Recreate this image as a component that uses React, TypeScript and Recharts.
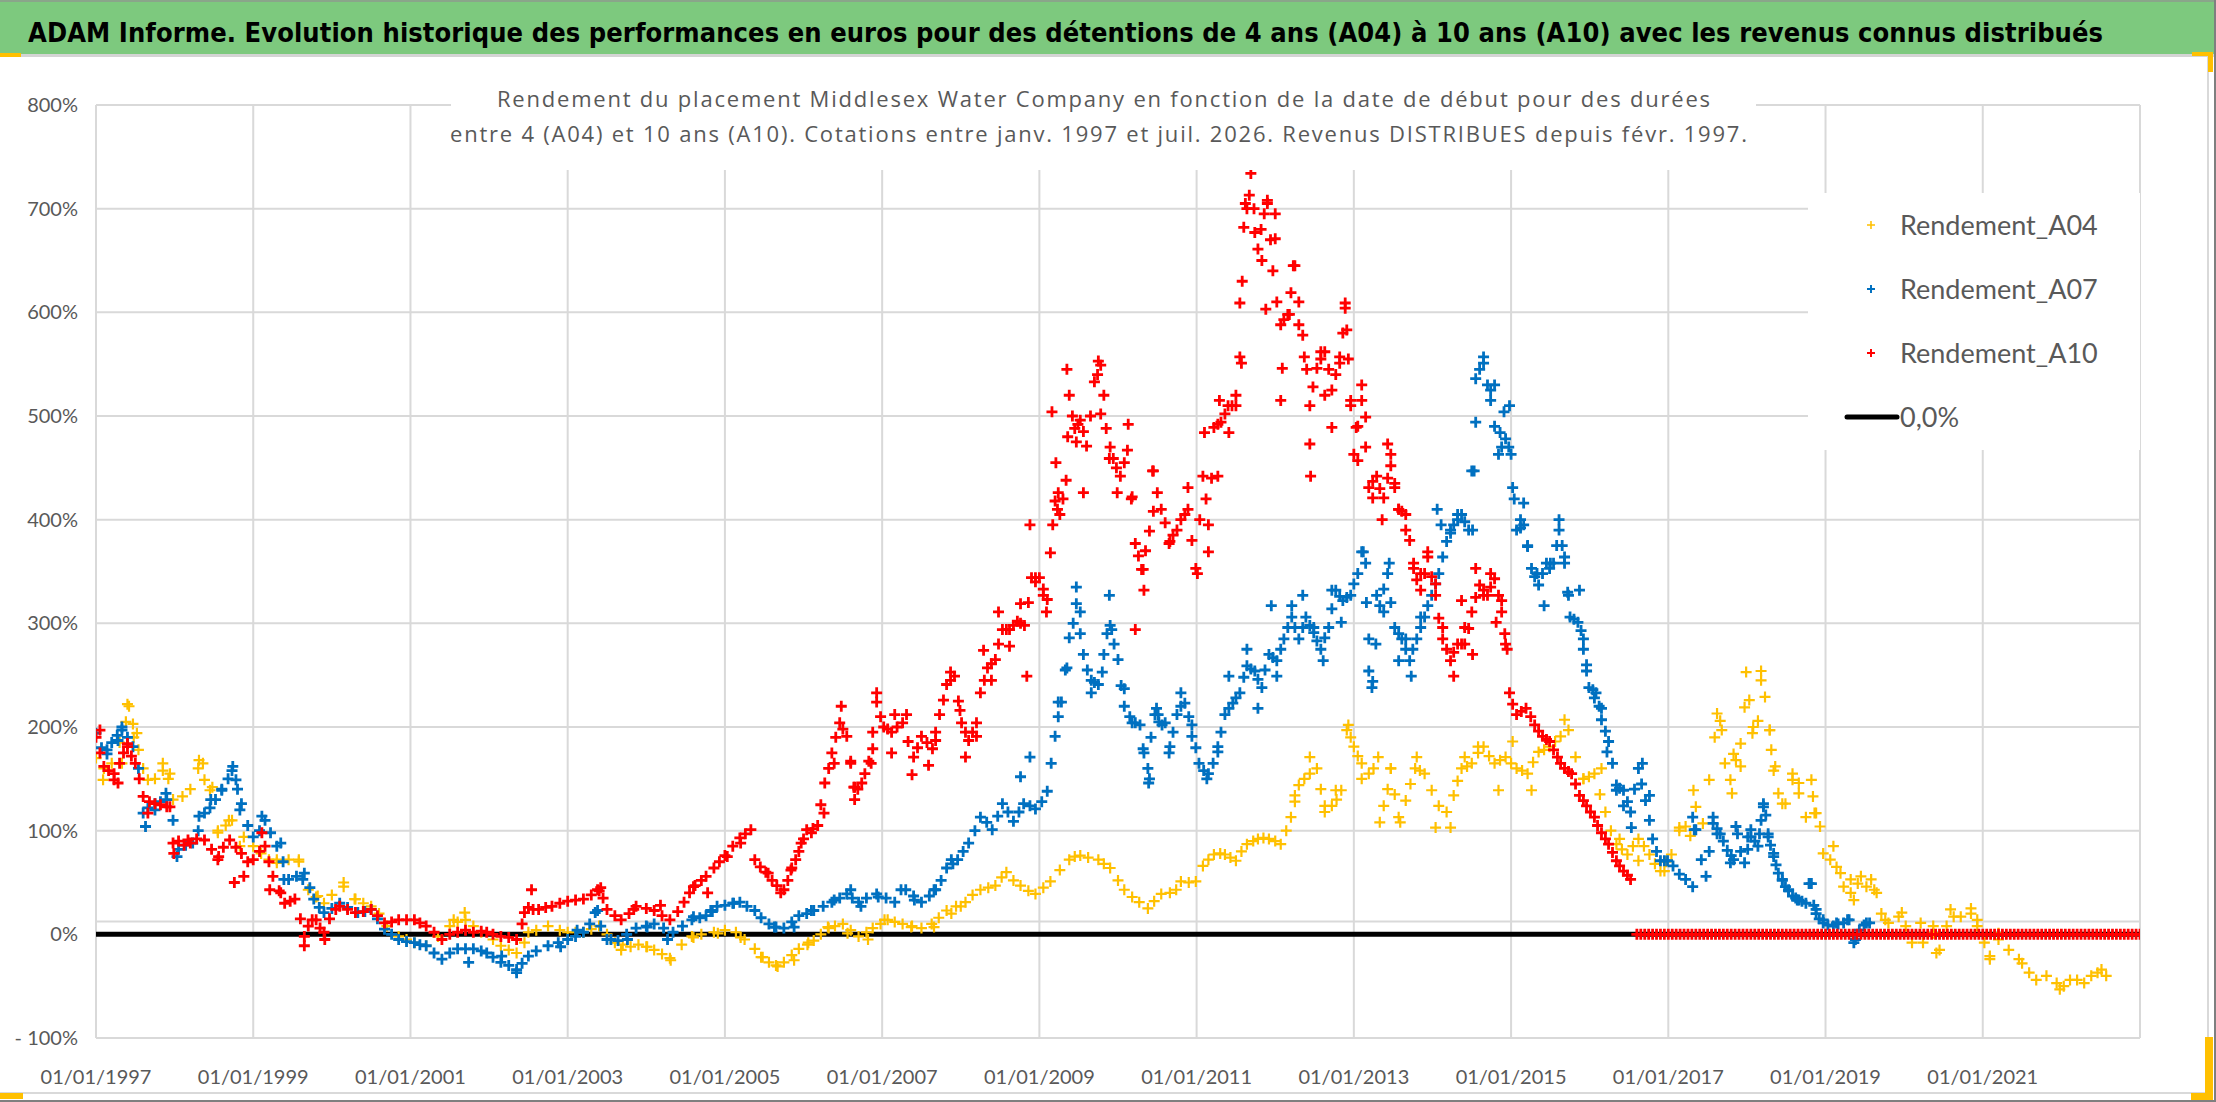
import { CartesianGrid, Legend, Scatter, ScatterChart, XAxis, YAxis } from 'recharts'

const TITLE =
  'ADAM Informe. Evolution historique des performances en euros pour des détentions de 4 ans (A04) à 10 ans (A10) avec les revenus connus distribués'
const SUBTITLE_LINES = [
  'Rendement du placement Middlesex Water Company en fonction de la date de début pour des durées',
  'entre 4 (A04) et 10 ans (A10). Cotations entre janv. 1997 et juil. 2026. Revenus DISTRIBUES depuis févr. 1997.',
]

const YEAR_TICKS = [1997, 1999, 2001, 2003, 2005, 2007, 2009, 2011, 2013, 2015, 2017, 2019, 2021]
const PERCENT_TICKS = [-100, 0, 12.5, 100, 200, 300, 400, 500, 600, 700, 800]

// [date as decimal year, return in %] — centre of each band
const A04: [number, number][] = [
  [1997.0, 170], [1997.1, 160], [1997.2, 165], [1997.3, 185], [1997.38, 205], [1997.42, 220], [1997.48, 190], [1997.54, 178],
  [1997.6, 160], [1997.66, 149], [1997.75, 150], [1997.85, 158], [1997.92, 150], [1997.98, 130], [1998.1, 133], [1998.2, 140],
  [1998.3, 160], [1998.36, 165], [1998.45, 139], [1998.55, 100], [1998.65, 105], [1998.73, 110], [1998.88, 94], [1999.0, 85],
  [1999.1, 78], [1999.2, 72], [1999.3, 69], [1999.45, 72], [1999.58, 70], [1999.7, 43], [1999.8, 36], [1999.9, 30],
  [2000.0, 38], [2000.15, 46], [2000.3, 34], [2000.4, 30], [2000.5, 27], [2000.6, 20], [2000.7, 8], [2000.85, -2],
  [2000.95, -5], [2001.05, -8], [2001.2, -11], [2001.35, -2], [2001.5, 8], [2001.6, 12], [2001.7, 14], [2001.8, 8],
  [2001.9, 2], [2002.05, -5], [2002.15, -11], [2002.25, -15], [2002.35, -18], [2002.45, -8], [2002.5, 2], [2002.6, 4],
  [2002.75, 8], [2002.9, 4], [2003.0, 2], [2003.1, 2], [2003.2, 2], [2003.3, 5], [2003.4, 8], [2003.5, 0],
  [2003.6, -8], [2003.68, -15], [2003.7, -10], [2003.8, -12], [2003.9, -10], [2004.0, -12], [2004.01, -12], [2004.1, -15],
  [2004.2, -19], [2004.3, -23], [2004.31, -25], [2004.45, -10], [2004.58, -2], [2004.6, -3], [2004.7, 0], [2004.86, 2],
  [2004.91, 1], [2005.0, 4], [2005.14, 2], [2005.2, -3], [2005.25, -5], [2005.38, -14], [2005.46, -22], [2005.48, -22],
  [2005.56, -27], [2005.65, -30], [2005.67, -31], [2005.75, -27], [2005.85, -20], [2005.88, -25], [2005.94, -14], [2006.05, -10],
  [2006.06, -8], [2006.13, -6], [2006.22, 0], [2006.31, 7], [2006.32, 6], [2006.4, 8], [2006.5, 10], [2006.56, 1],
  [2006.6, 4], [2006.7, -2], [2006.8, 2], [2006.82, -5], [2006.88, 6], [2006.98, 10], [2007.03, 14], [2007.07, 14],
  [2007.16, 12], [2007.26, 10], [2007.37, 7], [2007.38, 8], [2007.5, 6], [2007.63, 10], [2007.66, 7], [2007.72, 16],
  [2007.82, 23], [2007.88, 20], [2007.94, 27], [2008.0, 27], [2008.06, 31], [2008.15, 38], [2008.25, 43], [2008.35, 45],
  [2008.44, 47], [2008.52, 55], [2008.58, 60], [2008.67, 52], [2008.76, 47], [2008.86, 42], [2008.95, 39], [2009.05, 45],
  [2009.14, 51], [2009.26, 62], [2009.38, 72], [2009.45, 75], [2009.52, 76], [2009.62, 74], [2009.75, 72], [2009.82, 68],
  [2009.9, 64], [2010.0, 52], [2010.08, 43], [2010.18, 36], [2010.27, 31], [2010.38, 25], [2010.46, 32], [2010.55, 39],
  [2010.66, 40], [2010.74, 43], [2010.8, 51], [2010.9, 50], [2010.99, 51], [2011.08, 66], [2011.15, 72], [2011.22, 77],
  [2011.3, 78], [2011.36, 77], [2011.43, 74], [2011.5, 71], [2011.57, 80], [2011.64, 87], [2011.72, 90], [2011.78, 92],
  [2011.85, 93], [2011.92, 92], [2012.0, 90], [2012.07, 87], [2012.14, 100], [2012.2, 113], [2012.25, 128], [2012.3, 144],
  [2012.37, 150], [2012.44, 155], [2012.53, 160], [2012.58, 140], [2012.63, 124], [2012.72, 124], [2012.78, 130], [2012.84, 139],
  [2012.91, 197], [2012.96, 190], [2013.0, 181], [2013.05, 172], [2013.1, 165], [2013.19, 155], [2013.25, 160], [2013.31, 171],
  [2013.38, 124], [2013.43, 140], [2013.47, 160], [2013.52, 135], [2013.57, 113], [2013.66, 129], [2013.72, 145], [2013.78, 160],
  [2013.84, 158], [2013.9, 155], [2013.99, 139], [2014.08, 124], [2014.18, 118], [2014.27, 134], [2014.32, 148], [2014.37, 160],
  [2014.44, 162], [2014.5, 165], [2014.58, 175], [2014.65, 181], [2014.72, 172], [2014.79, 165], [2014.86, 168], [2014.93, 171],
  [2015.0, 165], [2015.07, 160], [2015.14, 158], [2015.21, 155], [2015.28, 166], [2015.35, 176], [2015.42, 178], [2015.49, 181],
  [2015.56, 186], [2015.63, 191], [2015.73, 197], [2015.82, 171], [2015.92, 150], [2015.99, 152], [2016.06, 155], [2016.13, 135],
  [2016.2, 118], [2016.27, 100], [2016.34, 87], [2016.41, 82], [2016.48, 77], [2016.55, 85], [2016.62, 92], [2016.69, 85],
  [2016.76, 77], [2016.83, 68], [2016.9, 61], [2016.97, 70], [2017.04, 77], [2017.14, 100], [2017.22, 104], [2017.28, 95],
  [2017.35, 123], [2017.44, 107], [2017.52, 149], [2017.59, 190], [2017.66, 206], [2017.72, 165], [2017.79, 149], [2017.86, 168],
  [2017.92, 162], [2017.97, 219], [2018.03, 226], [2018.08, 200], [2018.14, 206], [2018.18, 245], [2018.23, 229], [2018.29, 197],
  [2018.34, 158], [2018.4, 136], [2018.49, 126], [2018.58, 149], [2018.66, 136], [2018.75, 113], [2018.84, 133], [2018.88, 117],
  [2018.97, 78], [2019.06, 72], [2019.14, 65], [2019.23, 46], [2019.32, 40], [2019.41, 49], [2019.52, 46], [2019.62, 43],
  [2019.71, 20], [2019.8, 11], [2019.93, 17], [2020.02, 8], [2020.1, -8], [2020.24, -8], [2020.37, 1], [2020.45, -15],
  [2020.54, 8], [2020.63, 17], [2020.72, 17], [2020.85, 20], [2020.93, 8], [2021.02, -8], [2021.09, -21], [2021.2, -5],
  [2021.33, -15], [2021.46, -24], [2021.59, -37], [2021.68, -44], [2021.81, -40], [2021.94, -47], [2022.03, -50], [2022.11, -44],
  [2022.2, -44], [2022.29, -47], [2022.38, -40], [2022.46, -37], [2022.57, -40],
]

// dispersed crosses read around the band
const A04_SPREAD: [number, number][] = [
  [1997.09, 149], [1997.33, 165], [1997.4, 222], [1997.47, 203], [1997.52, 194], [1997.85, 165], [1997.94, 155], [1998.31, 168],
  [1998.38, 149], [1998.48, 142], [1998.55, 98], [1998.69, 110], [1998.83, 85], [1999.3, 72], [1999.58, 72], [1999.82, 37],
  [2000.15, 50], [2000.29, 34], [2001.55, 14], [2001.69, 21], [2012.25, 134], [2012.44, 171], [2012.63, 118], [2012.77, 139],
  [2012.93, 202], [2013.1, 150], [2013.33, 108], [2013.47, 160], [2013.59, 108], [2013.8, 171], [2014.04, 103], [2014.23, 103],
  [2014.41, 171], [2014.58, 181], [2014.84, 139], [2015.02, 186], [2015.26, 139], [2015.68, 207], [2015.92, 150], [2016.15, 160],
  [2016.38, 92], [2016.62, 71], [2016.95, 61], [2017.14, 103], [2017.32, 139], [2017.62, 213], [2017.68, 197], [2017.81, 136],
  [2017.83, 174], [2017.92, 184], [2017.99, 253], [2018.07, 194], [2018.18, 254], [2018.29, 197], [2018.31, 178], [2018.36, 162],
  [2018.45, 126], [2018.58, 155], [2018.66, 146], [2018.82, 149], [2018.86, 117], [2018.93, 104], [2019.1, 85], [2019.19, 59],
  [2019.32, 53], [2019.36, 33], [2019.45, 56], [2019.58, 53], [2019.65, 40], [2019.76, 14], [2019.97, 21], [2020.21, 11],
  [2020.37, 8], [2020.41, -18], [2020.59, 24], [2020.85, 25], [2020.93, 14], [2021.09, -24], [2021.2, 1], [2021.5, -28],
  [2021.98, -53], [2022.51, -34],
]

const A07: [number, number][] = [
  [1997.0, 194], [1997.07, 180], [1997.14, 174], [1997.2, 185], [1997.27, 192], [1997.33, 197], [1997.4, 190], [1997.47, 181],
  [1997.54, 160], [1997.6, 117], [1997.66, 122], [1997.75, 126], [1997.82, 128], [1997.9, 130], [1997.98, 110], [1998.05, 82],
  [1998.14, 86], [1998.23, 88], [1998.3, 100], [1998.38, 117], [1998.45, 122], [1998.52, 130], [1998.6, 140], [1998.68, 150],
  [1998.73, 158], [1998.8, 140], [1998.85, 126], [1998.93, 105], [1999.0, 94], [1999.08, 100], [1999.15, 110], [1999.22, 98],
  [1999.3, 85], [1999.38, 70], [1999.45, 53], [1999.55, 56], [1999.65, 59], [1999.72, 45], [1999.77, 34], [1999.84, 26],
  [1999.9, 21], [2000.0, 25], [2000.1, 30], [2000.2, 26], [2000.33, 21], [2000.42, 22], [2000.5, 24], [2000.58, 15],
  [2000.67, 5], [2000.76, 0], [2000.85, -5], [2000.95, -7], [2001.05, -8], [2001.12, -10], [2001.2, -11], [2001.3, -18],
  [2001.4, -24], [2001.5, -18], [2001.6, -14], [2001.7, -14], [2001.8, -14], [2001.9, -16], [2001.97, -18], [2002.05, -22],
  [2002.15, -27], [2002.25, -30], [2002.35, -34], [2002.42, -28], [2002.5, -21], [2002.6, -16], [2002.75, -11], [2002.88, -8],
  [2002.91, -12], [2003.0, -5], [2003.1, -2], [2003.12, 4], [2003.2, 2], [2003.28, 10], [2003.35, 21], [2003.38, 23],
  [2003.42, 8], [2003.5, -5], [2003.55, -5], [2003.64, -6], [2003.75, 0], [2003.76, -5], [2003.87, 6], [2004.0, 8],
  [2004.01, 7], [2004.1, 10], [2004.22, 6], [2004.27, -5], [2004.34, 2], [2004.46, 8], [2004.58, 14], [2004.6, 17],
  [2004.68, 16], [2004.76, 18], [2004.82, 23], [2004.84, 22], [2004.9, 27], [2005.0, 28], [2005.1, 30], [2005.11, 30],
  [2005.19, 31], [2005.28, 27], [2005.38, 23], [2005.46, 16], [2005.56, 10], [2005.63, 7], [2005.65, 7], [2005.75, 6],
  [2005.85, 12], [2005.88, 7], [2005.94, 18], [2006.04, 20], [2006.1, 23], [2006.13, 23], [2006.25, 27], [2006.36, 31],
  [2006.39, 33], [2006.46, 35], [2006.55, 39], [2006.6, 43], [2006.62, 35], [2006.7, 31], [2006.73, 27], [2006.8, 35],
  [2006.93, 39], [2006.95, 36], [2007.05, 35], [2007.16, 31], [2007.24, 43], [2007.3, 43], [2007.4, 37], [2007.41, 33],
  [2007.5, 31], [2007.6, 37], [2007.66, 43], [2007.68, 43], [2007.75, 52], [2007.82, 64], [2007.88, 72], [2007.9, 68],
  [2007.96, 72], [2008.03, 80], [2008.1, 88], [2008.18, 100], [2008.25, 113], [2008.33, 108], [2008.4, 101], [2008.47, 114],
  [2008.53, 126], [2008.6, 118], [2008.67, 109], [2008.74, 118], [2008.8, 126], [2008.88, 124], [2008.95, 121], [2009.03, 128],
  [2009.1, 138], [2009.15, 165], [2009.2, 191], [2009.24, 210], [2009.28, 224], [2009.33, 255], [2009.38, 286], [2009.43, 300],
  [2009.47, 319], [2009.52, 290], [2009.56, 270], [2009.61, 255], [2009.66, 245], [2009.7, 243], [2009.75, 241], [2009.82, 270],
  [2009.86, 290], [2009.9, 298], [2009.95, 280], [2010.0, 265], [2010.04, 240], [2010.08, 220], [2010.15, 210], [2010.22, 204],
  [2010.28, 202], [2010.33, 175], [2010.38, 160], [2010.42, 190], [2010.47, 212], [2010.52, 205], [2010.56, 202], [2010.6, 204],
  [2010.66, 181], [2010.7, 195], [2010.75, 212], [2010.8, 220], [2010.85, 223], [2010.9, 210], [2010.94, 202], [2010.99, 180],
  [2011.03, 165], [2011.09, 158], [2011.15, 155], [2011.21, 165], [2011.27, 176], [2011.31, 195], [2011.36, 212], [2011.41, 218],
  [2011.46, 223], [2011.5, 228], [2011.55, 233], [2011.6, 248], [2011.64, 259], [2011.69, 256], [2011.74, 254], [2011.78, 246],
  [2011.83, 238], [2011.87, 255], [2011.92, 270], [2011.97, 267], [2012.02, 264], [2012.07, 275], [2012.11, 285], [2012.16, 296],
  [2012.21, 306], [2012.25, 296], [2012.3, 285], [2012.35, 296], [2012.39, 306], [2012.44, 298], [2012.49, 291], [2012.53, 283],
  [2012.58, 275], [2012.63, 286], [2012.68, 296], [2012.72, 314], [2012.77, 332], [2012.82, 326], [2012.86, 322], [2012.91, 325],
  [2012.96, 327], [2013.0, 338], [2013.05, 348], [2013.12, 369], [2013.16, 320], [2013.19, 285], [2013.24, 244], [2013.28, 280],
  [2013.33, 317], [2013.38, 333], [2013.43, 348], [2013.47, 320], [2013.52, 296], [2013.57, 290], [2013.61, 285], [2013.66, 275],
  [2013.71, 264], [2013.75, 275], [2013.8, 285], [2013.85, 296], [2013.9, 306], [2013.94, 317], [2013.99, 327], [2014.04, 338],
  [2014.08, 348], [2014.13, 364], [2014.18, 379], [2014.23, 387], [2014.27, 395], [2014.32, 400], [2014.37, 405], [2014.41, 398],
  [2014.46, 390], [2014.5, 447], [2014.55, 536], [2014.6, 545], [2014.65, 551], [2014.7, 530], [2014.74, 515], [2014.79, 490],
  [2014.84, 463], [2014.88, 470], [2014.93, 478], [2014.97, 470], [2015.0, 463], [2015.04, 420], [2015.07, 390], [2015.12, 392],
  [2015.16, 395], [2015.21, 375], [2015.26, 353], [2015.3, 345], [2015.35, 337], [2015.4, 348], [2015.45, 358], [2015.5, 358],
  [2015.54, 358], [2015.58, 375], [2015.61, 390], [2015.65, 375], [2015.68, 358], [2015.72, 330], [2015.75, 306], [2015.8, 304],
  [2015.85, 301], [2015.89, 293], [2015.92, 285], [2015.96, 260], [2015.99, 238], [2016.04, 236], [2016.08, 233], [2016.12, 220],
  [2016.15, 207], [2016.2, 196], [2016.24, 186], [2016.29, 165], [2016.34, 144], [2016.38, 141], [2016.43, 139], [2016.48, 128],
  [2016.52, 118], [2016.57, 140], [2016.62, 160], [2016.66, 145], [2016.71, 129], [2016.76, 110], [2016.8, 92], [2016.85, 80],
  [2016.9, 71], [2016.95, 71], [2016.99, 71], [2017.06, 66], [2017.14, 58], [2017.22, 53], [2017.31, 46], [2017.35, 101],
  [2017.42, 72], [2017.48, 56], [2017.52, 80], [2017.57, 107], [2017.62, 102], [2017.66, 97], [2017.7, 90], [2017.75, 81],
  [2017.8, 76], [2017.83, 72], [2017.88, 97], [2017.92, 80], [2017.97, 69], [2018.01, 82], [2018.05, 94], [2018.1, 90],
  [2018.14, 85], [2018.18, 110], [2018.21, 123], [2018.24, 115], [2018.27, 97], [2018.3, 86], [2018.34, 75], [2018.37, 67],
  [2018.4, 59], [2018.45, 52], [2018.49, 46], [2018.53, 42], [2018.58, 37], [2018.62, 35], [2018.66, 33], [2018.7, 32],
  [2018.75, 30], [2018.82, 49], [2018.85, 28], [2018.88, 20], [2018.92, 15], [2018.97, 11], [2019.03, 9], [2019.1, 8],
  [2019.16, 10], [2019.23, 11], [2019.3, 14], [2019.38, -5], [2019.43, 4], [2019.49, 9], [2019.56, 11],
]

const A07_SPREAD: [number, number][] = [
  [1997.14, 178], [1997.28, 187], [1997.33, 200], [1997.63, 104], [1997.75, 120], [1997.89, 136], [1998.03, 75], [1998.31, 114],
  [1998.46, 130], [1998.6, 139], [1998.74, 162], [1998.78, 149], [1998.83, 120], [1999.11, 114], [1999.35, 88], [1999.39, 53],
  [1999.63, 53], [2001.74, -27], [2002.16, -21], [2002.35, -37], [2008.76, 152], [2008.88, 171], [2009.24, 224], [2009.35, 257],
  [2009.47, 335], [2009.52, 311], [2009.66, 233], [2009.8, 253], [2009.89, 327], [2009.92, 294], [2010.08, 237], [2010.18, 204],
  [2010.32, 179], [2010.39, 146], [2010.4, 150], [2010.49, 218], [2010.51, 212], [2010.65, 175], [2010.8, 233], [2010.94, 191],
  [2011.13, 150], [2011.27, 181], [2011.41, 249], [2011.64, 275], [2011.78, 218], [2011.95, 317], [2012.02, 249], [2012.21, 317],
  [2012.35, 327], [2012.49, 296], [2012.61, 264], [2012.72, 332], [2012.84, 301], [2013.1, 369], [2013.15, 358], [2013.19, 254],
  [2013.23, 238], [2013.29, 327], [2013.38, 311], [2013.45, 358], [2013.57, 264], [2013.66, 285], [2013.73, 249], [2013.85, 306],
  [2014.06, 410], [2014.11, 395], [2014.23, 390], [2014.32, 405], [2014.51, 390], [2014.53, 447], [2014.55, 494], [2014.65, 557],
  [2014.74, 525], [2014.79, 530], [2014.86, 484], [2014.91, 504], [2014.98, 510], [2015.02, 431], [2015.12, 400], [2015.16, 416],
  [2015.21, 374], [2015.33, 348], [2015.42, 317], [2015.49, 353], [2015.61, 400], [2015.68, 364], [2015.73, 327], [2015.87, 332],
  [2015.92, 275], [2015.96, 254], [2016.06, 228], [2016.15, 218], [2016.22, 176], [2016.34, 139], [2016.43, 124], [2016.53, 103],
  [2016.67, 165], [2016.76, 134], [2017.31, 113], [2017.33, 101], [2017.57, 113], [2017.62, 97], [2017.79, 69], [2017.86, 104],
  [2018.01, 94], [2018.05, 101], [2018.16, 97], [2018.21, 126], [2018.27, 94], [2018.34, 78], [2018.45, 53], [2018.53, 43],
  [2018.64, 33], [2018.79, 49], [2018.88, 24], [2018.97, 14], [2019.14, 11], [2019.28, 14], [2019.36, -8], [2019.52, 11],
]

const A10: [number, number][] = [
  [1997.0, 190], [1997.05, 175], [1997.1, 162], [1997.16, 158], [1997.23, 155], [1997.3, 165], [1997.35, 175], [1997.4, 181],
  [1997.45, 172], [1997.5, 165], [1997.55, 150], [1997.6, 133], [1997.68, 128], [1997.75, 126], [1997.82, 125], [1997.9, 123],
  [1997.98, 88], [1998.05, 90], [1998.12, 86], [1998.2, 88], [1998.28, 92], [1998.38, 91], [1998.47, 82], [1998.56, 75],
  [1998.62, 84], [1998.7, 91], [1998.78, 84], [1998.85, 78], [1998.93, 70], [1999.0, 72], [1999.08, 80], [1999.15, 85],
  [1999.2, 70], [1999.25, 56], [1999.33, 42], [1999.4, 30], [1999.47, 32], [1999.53, 34], [1999.6, 15], [1999.65, -2],
  [1999.7, 8], [1999.75, 14], [1999.8, 14], [1999.85, 6], [1999.9, 2], [1999.97, 15], [2000.05, 24], [2000.1, 27],
  [2000.2, 24], [2000.3, 21], [2000.4, 22], [2000.5, 24], [2000.58, 18], [2000.67, 11], [2000.76, 12], [2000.85, 14],
  [2000.95, 14], [2001.05, 14], [2001.12, 11], [2001.2, 8], [2001.3, 2], [2001.4, -5], [2001.5, 0], [2001.6, 2],
  [2001.7, 4], [2001.8, 2], [2001.9, 3], [2001.97, 2], [2002.05, 0], [2002.15, -2], [2002.25, -3], [2002.35, -5],
  [2002.42, 10], [2002.45, 21], [2002.5, 26], [2002.56, 24], [2002.63, 24], [2002.72, 26], [2002.8, 27], [2002.9, 30],
  [2003.0, 32], [2003.1, 33], [2003.2, 34], [2003.3, 38], [2003.4, 42], [2003.42, 45], [2003.45, 35], [2003.5, 24],
  [2003.6, 18], [2003.68, 14], [2003.78, 20], [2003.84, 24], [2003.87, 27], [2004.0, 25], [2004.1, 23], [2004.18, 28],
  [2004.2, 18], [2004.3, 14], [2004.4, 22], [2004.48, 31], [2004.55, 40], [2004.6, 46], [2004.62, 47], [2004.7, 52],
  [2004.76, 56], [2004.78, 40], [2004.86, 64], [2004.93, 70], [2005.0, 76], [2005.03, 75], [2005.1, 85], [2005.19, 93],
  [2005.2, 88], [2005.26, 97], [2005.33, 101], [2005.38, 72], [2005.45, 65], [2005.52, 60], [2005.55, 59], [2005.6, 52],
  [2005.66, 47], [2005.71, 40], [2005.75, 43], [2005.8, 52], [2005.84, 62], [2005.85, 64], [2005.9, 72], [2005.94, 80],
  [2005.97, 88], [2006.0, 92], [2006.04, 101], [2006.1, 98], [2006.12, 102], [2006.18, 105], [2006.22, 125], [2006.26, 117],
  [2006.27, 146], [2006.32, 160], [2006.36, 175], [2006.39, 165], [2006.41, 190], [2006.46, 204], [2006.5, 198], [2006.55, 191],
  [2006.6, 165], [2006.64, 142], [2006.65, 142], [2006.69, 140], [2006.74, 146], [2006.78, 155], [2006.83, 167], [2006.86, 165],
  [2006.88, 195], [2006.93, 224], [2006.98, 210], [2007.02, 200], [2007.07, 198], [2007.12, 195], [2007.19, 200], [2007.26, 204],
  [2007.33, 186], [2007.4, 171], [2007.45, 180], [2007.5, 191], [2007.57, 185], [2007.64, 179], [2007.68, 195], [2007.73, 212],
  [2007.78, 226], [2007.82, 241], [2007.87, 245], [2007.92, 249], [2007.97, 225], [2008.01, 204], [2008.06, 195], [2008.1, 187],
  [2008.15, 195], [2008.2, 204], [2008.25, 233], [2008.3, 245], [2008.34, 257], [2008.39, 261], [2008.44, 265], [2008.48, 280],
  [2008.53, 294], [2008.58, 294], [2008.62, 294], [2008.67, 298], [2008.72, 302], [2008.76, 300], [2008.81, 298], [2008.86, 320],
  [2008.9, 344], [2008.95, 344], [2009.0, 344], [2009.05, 333], [2009.1, 323], [2009.14, 368], [2009.17, 395], [2009.2, 418],
  [2009.23, 410], [2009.26, 405], [2009.3, 420], [2009.34, 438], [2009.36, 480], [2009.38, 520], [2009.42, 500], [2009.45, 488],
  [2009.49, 492], [2009.52, 496], [2009.56, 485], [2009.6, 471], [2009.65, 500], [2009.7, 533], [2009.74, 540], [2009.78, 549],
  [2009.82, 520], [2009.85, 488], [2009.9, 470], [2009.94, 459], [2009.98, 450], [2010.03, 442], [2010.08, 455], [2010.12, 467],
  [2010.17, 420], [2010.22, 377], [2010.26, 365], [2010.3, 352], [2010.35, 370], [2010.4, 389], [2010.45, 408], [2010.5, 426],
  [2010.55, 410], [2010.6, 397], [2010.66, 379], [2010.7, 385], [2010.75, 390], [2010.8, 400], [2010.85, 405], [2010.89, 410],
  [2010.94, 380], [2010.99, 353], [2011.04, 400], [2011.08, 442], [2011.12, 420], [2011.15, 395], [2011.19, 440], [2011.22, 489],
  [2011.27, 492], [2011.31, 494], [2011.36, 502], [2011.4, 510], [2011.45, 510], [2011.5, 510], [2011.55, 557], [2011.58, 630],
  [2011.6, 682], [2011.64, 700], [2011.67, 713], [2011.69, 734], [2011.73, 700], [2011.78, 661], [2011.82, 680], [2011.86, 695],
  [2011.9, 705], [2011.94, 670], [2011.97, 640], [2012.02, 610], [2012.07, 588], [2012.11, 593], [2012.16, 598], [2012.2, 619],
  [2012.25, 645], [2012.3, 610], [2012.35, 578], [2012.4, 545], [2012.44, 510], [2012.48, 528], [2012.53, 546], [2012.58, 555],
  [2012.63, 562], [2012.68, 545], [2012.72, 525], [2012.77, 540], [2012.82, 557], [2012.86, 580], [2012.89, 604], [2012.93, 555],
  [2012.96, 510], [2013.0, 463], [2013.05, 490], [2013.1, 515], [2013.15, 470], [2013.19, 431], [2013.24, 437], [2013.29, 442],
  [2013.33, 430], [2013.38, 421], [2013.43, 440], [2013.47, 463], [2013.52, 435], [2013.57, 410], [2013.61, 408], [2013.66, 405],
  [2013.71, 380], [2013.76, 353], [2013.8, 342], [2013.85, 332], [2013.9, 348], [2013.94, 364], [2013.99, 345], [2014.04, 327],
  [2014.08, 305], [2014.13, 285], [2014.18, 275], [2014.23, 264], [2014.27, 272], [2014.32, 280], [2014.37, 280], [2014.41, 280],
  [2014.46, 295], [2014.5, 311], [2014.55, 325], [2014.6, 337], [2014.65, 332], [2014.7, 327], [2014.74, 335], [2014.79, 343],
  [2014.84, 327], [2014.88, 311], [2014.92, 290], [2014.95, 275], [2014.98, 233], [2015.02, 222], [2015.07, 212], [2015.13, 215],
  [2015.19, 218], [2015.25, 210], [2015.3, 202], [2015.35, 196], [2015.4, 191], [2015.45, 188], [2015.49, 186], [2015.54, 178],
  [2015.59, 171], [2015.63, 165], [2015.68, 160], [2015.73, 157], [2015.77, 155], [2015.82, 145], [2015.87, 134], [2015.92, 129],
  [2015.96, 124], [2016.01, 118], [2016.06, 113], [2016.1, 105], [2016.15, 98], [2016.2, 92], [2016.24, 87], [2016.29, 79],
  [2016.34, 71], [2016.38, 66], [2016.43, 61], [2016.48, 57], [2016.52, 53],
]

const A10_SPREAD: [number, number][] = [
  [1997.05, 197], [1997.23, 149], [1997.28, 146], [1997.4, 184], [1997.66, 117], [1997.94, 123], [1997.99, 78], [1998.17, 91],
  [1998.55, 72], [1998.76, 50], [1998.88, 56], [1999.11, 98], [1999.21, 43], [1999.35, 40], [1999.65, -11], [1999.91, -5],
  [2002.54, 43], [2003.38, 43], [2006.48, 220], [2006.6, 167], [2006.65, 130], [2006.88, 179], [2006.93, 233], [2007.12, 175],
  [2007.16, 212], [2007.31, 212], [2007.38, 154], [2007.59, 163], [2007.68, 187], [2007.87, 253], [2007.99, 216], [2008.06, 171],
  [2008.2, 191], [2008.29, 274], [2008.39, 245], [2008.48, 311], [2008.62, 278], [2008.76, 319], [2008.84, 249], [2008.88, 395],
  [2008.95, 340], [2009.05, 327], [2009.09, 311], [2009.16, 504], [2009.21, 455], [2009.24, 426], [2009.35, 545], [2009.47, 475],
  [2009.56, 426], [2009.75, 553], [2009.78, 502], [2009.89, 459], [2009.99, 426], [2010.13, 492], [2010.18, 422], [2010.22, 294],
  [2010.32, 352], [2010.33, 332], [2010.44, 447], [2010.45, 447], [2010.65, 377], [2010.89, 431], [2011.01, 348], [2011.1, 484],
  [2011.15, 369], [2011.27, 442], [2011.29, 515], [2011.41, 484], [2011.5, 520], [2011.55, 609], [2011.57, 551], [2011.62, 705],
  [2011.74, 677], [2011.83, 650], [2011.88, 603], [2011.9, 708], [2012.0, 695], [2012.0, 671], [2012.07, 515], [2012.09, 546],
  [2012.18, 598], [2012.23, 645], [2012.3, 588], [2012.37, 557], [2012.44, 473], [2012.45, 442], [2012.58, 562], [2012.63, 520],
  [2012.72, 489], [2012.82, 551], [2012.89, 609], [2012.91, 583], [2012.96, 515], [2013.03, 489], [2013.05, 457], [2013.1, 530],
  [2013.15, 499], [2013.24, 421], [2013.36, 400], [2013.43, 473], [2013.47, 452], [2013.52, 431], [2013.57, 410], [2013.66, 390],
  [2013.76, 358], [2013.85, 348], [2013.94, 369], [2014.04, 338], [2014.13, 296], [2014.27, 249], [2014.37, 322], [2014.41, 296],
  [2014.51, 270], [2014.55, 353], [2014.65, 327], [2014.74, 348], [2014.81, 301], [2014.88, 322], [2014.93, 280],
]

// after mid-2016 the 10-year holding is not complete yet: the sheet plots 0
const A10_ZERO_DATES = [
  2016.6, 2016.65, 2016.7, 2016.75, 2016.8, 2016.85, 2016.9, 2016.95, 2017.0, 2017.05, 2017.1, 2017.15, 2017.2, 2017.25,
  2017.3, 2017.35, 2017.4, 2017.45, 2017.5, 2017.55, 2017.6, 2017.65, 2017.7, 2017.75, 2017.8, 2017.85, 2017.9, 2017.95,
  2018.0, 2018.05, 2018.1, 2018.15, 2018.2, 2018.25, 2018.3, 2018.35, 2018.4, 2018.45, 2018.5, 2018.55, 2018.6, 2018.65,
  2018.7, 2018.75, 2018.8, 2018.85, 2018.9, 2018.95, 2019.0, 2019.05, 2019.1, 2019.15, 2019.2, 2019.25, 2019.3, 2019.35,
  2019.4, 2019.45, 2019.5, 2019.55, 2019.6, 2019.65, 2019.7, 2019.75, 2019.8, 2019.85, 2019.9, 2019.95, 2020.0, 2020.05,
  2020.1, 2020.15, 2020.2, 2020.25, 2020.3, 2020.35, 2020.4, 2020.45, 2020.5, 2020.55, 2020.6, 2020.65, 2020.7, 2020.75,
  2020.8, 2020.85, 2020.9, 2020.95, 2021.0, 2021.05, 2021.1, 2021.15, 2021.2, 2021.25, 2021.3, 2021.35, 2021.4, 2021.45,
  2021.5, 2021.55, 2021.6, 2021.65, 2021.7, 2021.75, 2021.8, 2021.85, 2021.9, 2021.95, 2022.0, 2022.05, 2022.1, 2022.15,
  2022.2, 2022.25, 2022.3, 2022.35, 2022.4, 2022.45, 2022.5, 2022.55, 2022.6, 2022.65, 2022.7, 2022.75, 2022.8, 2022.85,
  2022.9, 2022.95, 2023.0,
]

const ZERO_LINE: [number, number][] = [
  [1997.0, 0],
  [2023.0, 0],
]

const SERIES = [
  { name: 'Rendement_A04', color: '#FFC000', points: [...A04, ...A04_SPREAD], stroke: 2.2 },
  { name: 'Rendement_A07', color: '#0070C0', points: [...A07, ...A07_SPREAD], stroke: 2.8 },
  {
    name: 'Rendement_A10',
    color: '#FF0000',
    points: [...A10, ...A10_SPREAD, ...A10_ZERO_DATES.map((date): [number, number] => [date, 0])],
    stroke: 2.8,
  },
]

const GRID = '#D9D9D9'
const TEXT = '#595959'
const FONT = 'Lato, "Open Sans", sans-serif'

function toPoints(points: [number, number][]) {
  return points.map(([x, y]) => ({ x, y }))
}

function crossShape(half: number, width: number) {
  return (props: { cx?: number; cy?: number; fill?: string }) => {
    const cx = props.cx ?? 0
    const cy = props.cy ?? 0
    return (
      <path
        d={`M${cx - half},${cy}H${cx + half}M${cx},${cy - half}V${cy + half}`}
        stroke={props.fill}
        strokeWidth={width}
        fill="none"
      />
    )
  }
}

function renderNothing() {
  return <g />
}

function formatYear(value: number) {
  return `01/01/${value}`
}

function formatPercent(value: number) {
  if (value === 12.5) return ''
  if (value < 0) return `- ${Math.abs(value)}%`
  return `${value}%`
}

function LegendBox() {
  const rows = [
    ...SERIES.map((s) => ({ name: s.name, color: s.color, stroke: s.stroke })),
    { name: '0,0%', color: '#000', stroke: 5 },
  ]
  return (
    <div style={{ width: 332, height: 257, background: '#fff', fontFamily: FONT }}>
      {rows.map((item, index) => (
        <div key={item.name} style={{ height: 64, display: 'flex', alignItems: 'center' }}>
          <svg width={92} height={64} style={{ flex: 'none' }}>
            {index < 3 ? (
              <path d="M59,32H67M63,28V36" stroke={item.color} strokeWidth={item.stroke * 0.7} fill="none" />
            ) : (
              <line x1={39} y1={32} x2={89} y2={32} stroke="#000" strokeWidth={5} strokeLinecap="round" />
            )}
          </svg>
          <span style={{ fontSize: 27, color: TEXT, lineHeight: '64px' }}>{item.name}</span>
        </div>
      ))}
    </div>
  )
}

export default function App() {
  return (
    <div
      style={{
        position: 'absolute',
        left: 0,
        top: 0,
        width: 2216,
        height: 1102,
        background: '#fff',
        overflow: 'hidden',
        fontFamily: FONT,
      }}
    >
      <div style={{ position: 'absolute', left: 0, top: 0 }}>
        <ScatterChart width={2216} height={1102} margin={{ top: 105, right: 76, bottom: 0, left: 0 }}>
          <CartesianGrid stroke={GRID} strokeWidth={2} />
          <XAxis
            type="number"
            dataKey="x"
            domain={[1997, 2023]}
            ticks={YEAR_TICKS}
            interval={0}
            tickFormatter={formatYear}
            axisLine={false}
            tickLine={false}
            tickMargin={26}
            height={64}
            tick={{ fill: TEXT, fontSize: 20, fontFamily: FONT }}
            allowDataOverflow
          />
          <YAxis
            type="number"
            dataKey="y"
            domain={[-100, 800]}
            ticks={PERCENT_TICKS}
            interval={0}
            tickFormatter={formatPercent}
            axisLine={false}
            tickLine={false}
            tickMargin={12}
            width={96}
            tick={{ fill: TEXT, fontSize: 20, fontFamily: FONT }}
            allowDataOverflow
          />
          <Legend
            layout="vertical"
            align="center"
            verticalAlign="middle"
            content={() => <LegendBox />}
            wrapperStyle={{ left: 1808, top: 193, width: 332, height: 257 }}
          />
          <Scatter
            name="0,0%"
            data={toPoints(ZERO_LINE)}
            fill="#000"
            line={{ stroke: '#000', strokeWidth: 5 }}
            shape={renderNothing}
            isAnimationActive={false}
          />
          {SERIES.map((series) => (
            <Scatter
              key={series.name}
              name={series.name}
              data={toPoints(series.points)}
              fill={series.color}
              shape={crossShape(5.5, series.stroke)}
              isAnimationActive={false}
            />
          ))}
        </ScatterChart>
      </div>

      <svg
        width={2216}
        height={1102}
        style={{ position: 'absolute', left: 0, top: 0, pointerEvents: 'none' }}
      >
        <rect x={0} y={0} width={2216} height={54} fill="#7DC97E" />
        <rect x={0} y={0} width={2216} height={2} fill="#8AA58A" />
        <rect x={0} y={54} width={2216} height={3} fill="#D4D4D4" />
        <text
          x={28}
          y={42}
          textLength={2075}
          lengthAdjust="spacing"
          fontSize={27}
          fontWeight={700}
          fontFamily='"DejaVu Sans Condensed", "Liberation Sans Narrow", sans-serif'
          fill="#000"
        >
          {TITLE}
        </text>

        <rect x={451} y={76} width={1305} height={94} fill="#fff" />
        <text
          x={497}
          y={107}
          textLength={1213}
          lengthAdjust="spacing"
          fontSize={22}
          fontFamily='"Open Sans", Lato, sans-serif'
          fill={TEXT}
        >
          {SUBTITLE_LINES[0]}
        </text>
        <text
          x={450}
          y={142}
          textLength={1297}
          lengthAdjust="spacing"
          fontSize={22}
          fontFamily='"Open Sans", Lato, sans-serif'
          fill={TEXT}
        >
          {SUBTITLE_LINES[1]}
        </text>

        <line x1={2208} y1={57} x2={2208} y2={1093} stroke="#D9D9D9" strokeWidth={2} />
        <line x1={0} y1={1093} x2={2208} y2={1093} stroke="#D9D9D9" strokeWidth={2} />
        <line x1={0} y1={1101} x2={2216} y2={1101} stroke="#7F7F7F" strokeWidth={2} />
        <line x1={2215} y1={0} x2={2215} y2={1102} stroke="#7F7F7F" strokeWidth={2} />
        <rect x={0} y={53} width={21} height={4} fill="#FFC000" />
        <rect x={2192} y={52} width={20} height={4} fill="#FFC000" />
        <rect x={2208} y={52} width={5} height={20} fill="#FFC000" />
        <rect x={2205} y={1037} width={8} height={63} fill="#FFC000" />
        <rect x={2191} y={1093} width={22} height={7} fill="#FFC000" />
        <rect x={0} y={1093} width={23} height={6} fill="#FFC000" />
      </svg>
    </div>
  )
}
